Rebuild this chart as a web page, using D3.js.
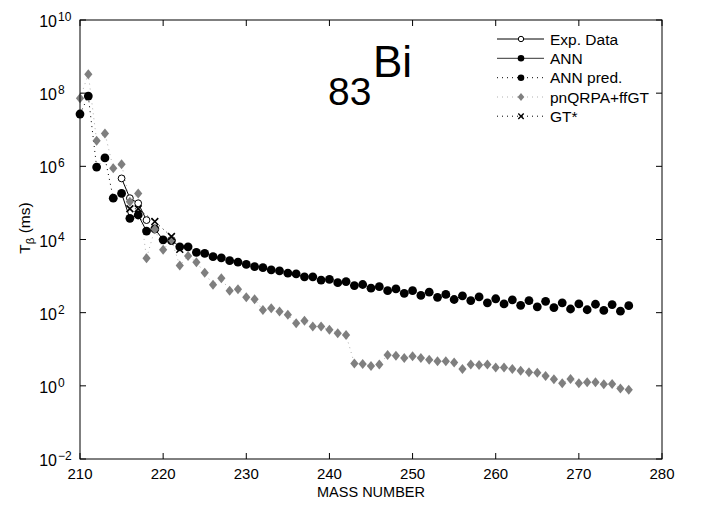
<!DOCTYPE html>
<html><head><meta charset="utf-8">
<script src="https://cdn.jsdelivr.net/npm/d3@7"></script>
<style>
body{margin:0;background:#fff;}
svg text{font-family:"Liberation Sans",Arial,Helvetica,sans-serif;fill:#000;}
</style></head>
<body><svg id="c" width="704" height="506"></svg>
<script>
// ---- data (log10 of T_beta in ms) ----
const massStart = 210;
const annPredLog = [7.43,7.92,5.98,6.23,5.13,null,null,null,null,null,null,
  3.97,3.80,3.80,3.65,3.62,3.53,3.50,3.42,3.38,3.32,3.26,3.23,3.17,3.14,3.08,3.06,2.98,2.98,2.89,2.91,
  2.82,2.85,2.74,2.77,2.67,2.71,2.60,2.65,2.53,2.60,2.47,2.56,2.42,2.50,2.36,2.46,2.33,2.43,2.27,2.38,
  2.24,2.35,2.20,2.33,2.16,2.31,2.14,2.27,2.10,2.24,2.08,2.23,2.06,2.22,2.04,2.19];
const qrpaLog = [7.86,8.52,6.70,6.90,5.95,6.06,5.03,5.26,3.49,4.28,3.72,
  3.99,3.29,3.55,3.38,3.09,2.76,2.94,2.60,2.64,2.42,2.37,2.07,2.12,2.03,1.94,1.71,1.78,1.62,1.62,1.53,
  1.44,1.39,0.61,0.60,0.54,0.58,0.84,0.82,0.76,0.81,0.76,0.71,0.67,0.67,0.64,0.46,0.58,0.57,0.58,0.50,
  0.50,0.46,0.41,0.37,0.36,0.27,0.18,0.07,0.19,0.07,0.10,0.10,0.04,0.05,-0.07,-0.11];
const annMass = [215,216,217,218,219,220];
const annLog  = [5.26,4.58,4.67,4.23,4.29,3.99];
const expMass = [215,216,217,218];
const expLog  = [5.67,5.13,4.99,4.53];
const gtMass = [216,217,219,221,222];
const gtLog  = [4.84,4.84,4.49,4.08,3.73];
const xTicks = [210,220,230,240,250,260,270,280];
const yTickExp = [-2,0,2,4,6,8,10];
const legendLabels = ["Exp. Data","ANN","ANN pred.","pnQRPA+ffGT","GT*"];

// ---- build ----
const svg = d3.select("#c");
const L=80,R=662,T=20,B=459;
const x = d3.scaleLinear().domain([210,280]).range([L,R]);
const y = d3.scaleLog().domain([1e-2,1e10]).range([B,T]);
const gray = "#7f7f7f";

const toPts = (masses, logs) => masses.map((m,i)=>({m, v: logs[i]==null?null:Math.pow(10,logs[i])}));
const annPred = toPts(annPredLog.map((_,i)=>massStart+i), annPredLog);
const qrpa = toPts(qrpaLog.map((_,i)=>massStart+i), qrpaLog);
const ann = toPts(annMass, annLog);
const exp = toPts(expMass, expLog);
const gt = toPts(gtMass, gtLog);

const line = d3.line().defined(d=>d.v!=null).x(d=>x(d.m)).y(d=>y(d.v));
const plot = svg.append("g");

// series lines
plot.append("path").datum(exp).attr("d",line).attr("fill","none").attr("stroke","#000").attr("stroke-width",1);
plot.append("path").datum(ann).attr("d",line).attr("fill","none").attr("stroke","#000").attr("stroke-width",1);
plot.append("path").datum(annPred).attr("d",line).attr("fill","none").attr("stroke","#000").attr("stroke-width",1).attr("stroke-dasharray","1,4");
plot.append("path").datum(qrpa).attr("d",line).attr("fill","none").attr("stroke","#b0b0b0").attr("stroke-width",1).attr("stroke-dasharray","1,4");
plot.append("path").datum(gt).attr("d",line).attr("fill","none").attr("stroke","#000").attr("stroke-width",1).attr("stroke-dasharray","1,4");

const diamond = (cx,cy)=>`M${cx},${cy-5}L${cx+4.1},${cy}L${cx},${cy+5}L${cx-4.1},${cy}Z`;
const cross = (cx,cy)=>{const s=3.4;return `M${cx-s},${cy-s}L${cx+s},${cy+s}M${cx-s},${cy+s}L${cx+s},${cy-s}`;};

// markers
plot.selectAll(".exp").data(exp).join("circle").attr("cx",d=>x(d.m)).attr("cy",d=>y(d.v)).attr("r",3.4).attr("fill","#fff").attr("stroke","#000").attr("stroke-width",1);
plot.selectAll(".ann").data(ann).join("circle").attr("cx",d=>x(d.m)).attr("cy",d=>y(d.v)).attr("r",4.4).attr("fill","#000");
plot.selectAll(".annp").data(annPred.filter(d=>d.v!=null)).join("circle").attr("cx",d=>x(d.m)).attr("cy",d=>y(d.v)).attr("r",4.4).attr("fill","#000");
plot.selectAll(".q").data(qrpa).join("path").attr("d",d=>diamond(x(d.m),y(d.v))).attr("fill",gray);
plot.selectAll(".gt").data(gt).join("path").attr("d",d=>cross(x(d.m),y(d.v))).attr("stroke","#000").attr("stroke-width",1.6).attr("fill","none");

// axes box
svg.append("rect").attr("x",L).attr("y",T).attr("width",R-L).attr("height",B-T).attr("fill","none").attr("stroke","#000").attr("stroke-width",1);
const tl=6;
const xa = svg.append("g");
xTicks.forEach(t=>{
  xa.append("line").attr("x1",x(t)).attr("x2",x(t)).attr("y1",B).attr("y2",B-tl).attr("stroke","#000");
  xa.append("line").attr("x1",x(t)).attr("x2",x(t)).attr("y1",T).attr("y2",T+tl).attr("stroke","#000");
  xa.append("text").attr("x",x(t)).attr("y",B+20).attr("text-anchor","middle").attr("font-size",15).text(t);
});
const ya = svg.append("g");
yTickExp.forEach(e=>{
  const yy = y(Math.pow(10,e));
  ya.append("line").attr("x1",L).attr("x2",L+tl).attr("y1",yy).attr("y2",yy).attr("stroke","#000");
  ya.append("line").attr("x1",R).attr("x2",R-tl).attr("y1",yy).attr("y2",yy).attr("stroke","#000");
  ya.append("text").attr("x",57).attr("y",yy+7).attr("text-anchor","end").attr("font-size",16).text("10");
  ya.append("text").attr("x",58).attr("y",yy+1).attr("text-anchor","start").attr("font-size",12).text(e<0?"\u2212"+(-e):String(e));
});

// axis labels
svg.append("text").attr("x",(L+R)/2).attr("y",497).attr("text-anchor","middle").attr("font-size",14.5).text("MASS NUMBER");
const yl = svg.append("text").attr("transform","translate(30,228) rotate(-90)").attr("text-anchor","middle").attr("font-size",15.5);
yl.append("tspan").text("T");
yl.append("tspan").attr("font-size",11.5).attr("dy",4).text("\u03b2");
yl.append("tspan").attr("dy",-4).text(" (ms)");

// title
svg.append("text").attr("x",328).attr("y",105).attr("font-size",39).text("83");
svg.append("text").attr("x",373).attr("y",77).attr("font-size",44).text("Bi");

// legend
const lg = svg.append("g");
const rows = [39,58.3,77.7,97,116.2];
const lx1=497,lx2=544,lm=521;
legendLabels.forEach((lab,i)=>{
  const yy=rows[i];
  const ln = lg.append("line").attr("x1",lx1).attr("x2",lx2).attr("y1",yy).attr("y2",yy).attr("stroke-width",1);
  if(i===0){ln.attr("stroke","#000");lg.append("circle").attr("cx",lm).attr("cy",yy).attr("r",2.7).attr("fill","#fff").attr("stroke","#000");}
  if(i===1){ln.attr("stroke","#333");lg.append("circle").attr("cx",lm).attr("cy",yy).attr("r",3.3).attr("fill","#000");}
  if(i===2){ln.attr("stroke","#000").attr("stroke-dasharray","1,4");lg.append("circle").attr("cx",lm).attr("cy",yy).attr("r",3.3).attr("fill","#000");}
  if(i===3){ln.attr("stroke","#b0b0b0").attr("stroke-dasharray","1,4");lg.append("path").attr("d",`M${lm},${yy-4}L${lm+3.3},${yy}L${lm},${yy+4}L${lm-3.3},${yy}Z`).attr("fill",gray);}
  if(i===4){ln.attr("stroke","#000").attr("stroke-dasharray","1,4");lg.append("path").attr("d",`M${lm-2.7},${yy-2.7}L${lm+2.7},${yy+2.7}M${lm-2.7},${yy+2.7}L${lm+2.7},${yy-2.7}`).attr("stroke","#000").attr("stroke-width",1.4);}
  lg.append("text").attr("x",550).attr("y",yy+5.5).attr("font-size",15.5).text(lab);
});
</script></body></html>
